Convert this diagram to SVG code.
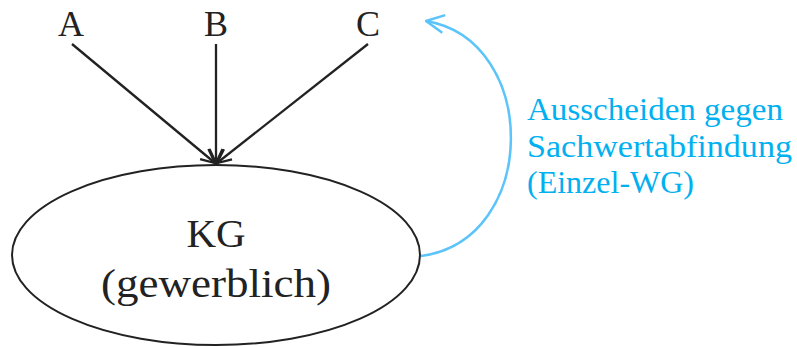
<svg xmlns="http://www.w3.org/2000/svg" width="797" height="347" viewBox="0 0 797 347">
<style>
.lbl{font-family:"Liberation Serif","Times New Roman",serif;fill:#222}
.blue{font-family:"Liberation Serif","Times New Roman",serif;fill:#00b0f0;font-size:31px}
.edge{stroke:#222;stroke-width:2.3;fill:none}
</style>
<defs>
<marker id="ah" viewBox="0 0 16 16" refX="15" refY="8" markerWidth="16" markerHeight="16" markerUnits="userSpaceOnUse" orient="auto">
<path d="M1,1.5 L15,8 L1,14.5" fill="none" stroke="#222" stroke-width="2.3"/>
</marker>
<marker id="ahb" viewBox="0 0 20 20" refX="19" refY="10" markerWidth="20" markerHeight="20" markerUnits="userSpaceOnUse" orient="auto">
<path d="M1,1 L19,10 L1,19" fill="none" stroke="#5bc4fa" stroke-width="2.5"/>
</marker>
</defs>
<rect width="797" height="347" fill="#fff"/>
<g id="node-A"><text class="lbl" x="71" y="36" font-size="36" text-anchor="middle">A</text></g>
<g id="node-B"><text class="lbl" x="216" y="36" font-size="36" text-anchor="middle">B</text></g>
<g id="node-C"><text class="lbl" x="368" y="36" font-size="36" text-anchor="middle">C</text></g>
<g id="node-KG">
<ellipse cx="216" cy="255" rx="204" ry="90" fill="none" stroke="#222" stroke-width="2"/>
<text class="lbl" x="216" y="247" font-size="41" text-anchor="middle">KG</text>
<text class="lbl" x="216" y="297" font-size="41" text-anchor="middle" textLength="230" lengthAdjust="spacingAndGlyphs">(gewerblich)</text>
</g>
<g id="connectors">
<line class="edge" x1="72" y1="44" x2="215" y2="163" marker-end="url(#ah)"/>
<line class="edge" x1="216" y1="44" x2="216" y2="163" marker-end="url(#ah)"/>
<line class="edge" x1="368" y1="44" x2="217" y2="163" marker-end="url(#ah)"/>
<path d="M421,256 C540,240 540,40 426,21" fill="none" stroke="#5bc4fa" stroke-width="2.5" marker-end="url(#ahb)"/>
</g>
<g id="label-ausscheiden">
<text class="blue" x="527" y="120" textLength="256" lengthAdjust="spacingAndGlyphs">Ausscheiden gegen</text>
<text class="blue" x="527" y="157" textLength="265" lengthAdjust="spacingAndGlyphs">Sachwertabfindung</text>
<text class="blue" x="527" y="193" textLength="167" lengthAdjust="spacingAndGlyphs">(Einzel-WG)</text>
</g>
</svg>
